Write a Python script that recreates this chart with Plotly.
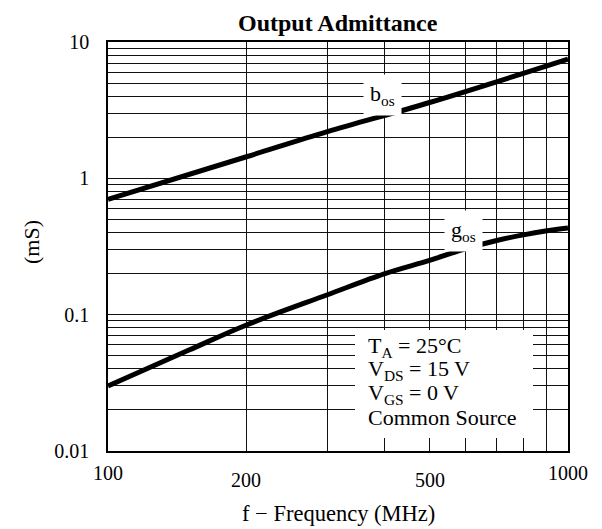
import math
import plotly.graph_objects as go

# Data
freq_b = [100, 200, 300, 500, 1000]
b_os = [0.70, 1.44, 2.2, 3.6, 7.5]

freq_g = [100, 150, 200, 300, 400, 500, 600, 700, 800, 900, 1000]
g_os = [0.030, 0.055, 0.084, 0.14, 0.20, 0.25, 0.305, 0.35, 0.385, 0.412, 0.432]

x_grid = [100, 200, 300, 400, 500, 600, 700, 800, 900, 1000]
x_labels = ["100", "200", "500", "1000"]
x_label_vals = [100, 200, 500, 1000]
x_label_shift = [-22, -29, -29, -22]

y_grid = [m * 10 ** e for e in (-2, -1, 0) for m in range(1, 10)] + [10]
y_label_vals = [0.01, 0.1, 1, 10]
y_labels = ["0.01", "0.1", "1", "10"]

cond_lines = ["T<sub>A</sub> = 25°C", "V<sub>DS</sub> = 15 V",
              "V<sub>GS</sub> = 0 V", "Common Source"]

FONT = "Liberation Serif"

fig = go.Figure()
fig.add_trace(go.Scatter(x=freq_b, y=b_os, mode="lines",
                         line=dict(color="black", width=5, shape="spline"),
                         showlegend=False))
fig.add_trace(go.Scatter(x=freq_g, y=g_os, mode="lines",
                         line=dict(color="black", width=5, shape="spline"),
                         showlegend=False))

fig.update_xaxes(type="log", range=[2, 3], tickvals=x_grid,
                 ticktext=[""] * len(x_grid), showgrid=True,
                 gridcolor="#111", gridwidth=1.2, ticks="",
                 showline=True, linecolor="black", linewidth=1.5, mirror=True,
                 zeroline=False)
fig.update_yaxes(type="log", range=[-2, 1], tickvals=y_grid,
                 ticktext=[y_labels[y_label_vals.index(v)] if v in y_label_vals else "" for v in y_grid],
                 showgrid=True, gridcolor="#111", gridwidth=1.2, ticks="",
                 ticklabelstandoff=13,
                 tickfont=dict(family=FONT, size=20, color="black"),
                 showline=True, linecolor="black", linewidth=1.5, mirror=True,
                 zeroline=False)

for v, t, s in zip(x_label_vals, x_labels, x_label_shift):
    fig.add_annotation(x=math.log10(v), y=0, xref="x", yref="paper", text=t,
                       showarrow=False, yanchor="middle", yshift=s,
                       font=dict(family=FONT, size=20, color="black"))

# Curve labels with white background
fig.add_annotation(x=math.log10(396), y=math.log10(4.12), text="b<sub>os</sub>",
                   showarrow=False, bgcolor="white", borderpad=6,
                   font=dict(family=FONT, size=22, color="black"))
fig.add_annotation(x=math.log10(592), y=math.log10(0.41), text="g<sub>os</sub>",
                   showarrow=False, bgcolor="white", borderpad=6,
                   font=dict(family=FONT, size=22, color="black"))

# Conditions box
fig.add_shape(type="rect", xref="paper", yref="paper",
              x0=(355 - 108) / 460, x1=(533 - 108) / 460,
              y0=(451 - 438) / 409, y1=(451 - 330) / 409,
              fillcolor="white", line=dict(width=0), layer="above")
for i, t in enumerate(cond_lines):
    fig.add_annotation(xref="paper", yref="paper", x=(366 - 108) / 460,
                       y=(451 - (347 + 23.4 * i)) / 409, xanchor="left",
                       yanchor="middle", align="left", showarrow=False, text=t,
                       font=dict(family=FONT, size=22, color="black"))

# Titles
fig.add_annotation(xref="paper", yref="paper", x=0.5, y=1, yanchor="middle",
                   yshift=19, showarrow=False, text="<b>Output Admittance</b>",
                   font=dict(family=FONT, size=24, color="black"))
fig.add_annotation(xref="paper", yref="paper", x=0.5, y=0, yanchor="middle",
                   yshift=-62, showarrow=False, text="f − Frequency (MHz)",
                   font=dict(family=FONT, size=22.5, color="black"))
fig.add_annotation(xref="paper", yref="paper", x=0, xshift=-77, y=0.511,
                   xanchor="center", yanchor="middle",
                   showarrow=False, text="(mS)", textangle=-90,
                   font=dict(family=FONT, size=22, color="black"))

fig.update_layout(width=602, height=529,
                  margin=dict(l=108, r=34, t=42, b=78),
                  paper_bgcolor="white", plot_bgcolor="white",
                  showlegend=False)

fig.write_html("out.html")
